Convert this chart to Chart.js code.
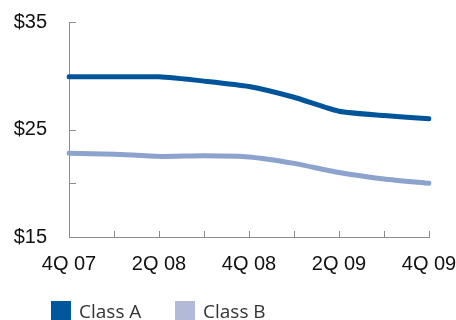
<!DOCTYPE html>
<html>
<head>
<meta charset="utf-8">
<script src="https://cdn.jsdelivr.net/npm/chart.js@4/dist/chart.umd.min.js"></script>
<style>
  html, body { margin: 0; padding: 0; background: #fff; }
  #wrap { position: relative; width: 456px; height: 320px; overflow: hidden; }
  canvas { position: absolute; left: 0; top: 0; }
  .leg { position: absolute; top: 301px; height: 20px; display: flex; align-items: center; font-family: "Open Sans", "Noto Sans", sans-serif; font-size: 19px; color: #333; white-space: nowrap; }
  .sw { width: 20px; height: 20px; margin-right: 8px; }
</style>
</head>
<body>
<div id="wrap">
  <canvas id="c" width="456" height="320"></canvas>
  <div class="leg" style="left:51px"><div class="sw" style="background:#00579b"></div>Class A</div>
  <div class="leg" style="left:175px"><div class="sw" style="background:#b2bad8"></div>Class B</div>
</div>
<script>
const categories = ['4Q 07', '1Q 08', '2Q 08', '3Q 08', '4Q 08', '1Q 09', '2Q 09', '3Q 09', '4Q 09'];
const classA = [29.9, 29.9, 29.9, 29.5, 29.0, 28.0, 26.7, 26.3, 26.0];
const classB = [22.8, 22.7, 22.5, 22.55, 22.45, 21.85, 21.0, 20.4, 20.0];
const yTickValues = [15, 20, 25, 30, 35];
const yLabelValues = [15, 25, 35];

const innerTicks = {
  id: 'innerTicks',
  beforeDatasetsDraw(chart) {
    const ctx = chart.ctx;
    const x = chart.scales.x, y = chart.scales.y;
    ctx.save();
    ctx.strokeStyle = '#8c8c8c';
    ctx.lineWidth = 1;
    ctx.beginPath();
    yTickValues.forEach(v => {
      const py = Math.round(y.getPixelForValue(v)) + 0.5;
      ctx.moveTo(x.left, py);
      ctx.lineTo(x.left + 7, py);
    });
    categories.forEach((c, i) => {
      const px = Math.round(x.getPixelForValue(i)) + 0.5;
      ctx.moveTo(px, y.bottom);
      ctx.lineTo(px, y.bottom - 6);
    });
    ctx.stroke();
    ctx.restore();
  }
};

new Chart(document.getElementById('c'), {
  type: 'line',
  data: {
    labels: categories,
    datasets: [
      { label: 'Class A', data: classA, borderColor: '#00559a', borderWidth: 5, tension: 0.2, pointRadius: 0, borderCapStyle: 'round', borderJoinStyle: 'round' },
      { label: 'Class B', data: classB, borderColor: '#8ba3cd', borderWidth: 5, tension: 0.2, pointRadius: 0, borderCapStyle: 'round', borderJoinStyle: 'round' }
    ]
  },
  options: {
    responsive: false,
    animation: false,
    events: [],
    layout: { padding: { left: 0, right: 27, top: 22, bottom: 43 } },
    plugins: { legend: { display: false }, tooltip: { enabled: false } },
    scales: {
      x: {
        offset: false,
        border: { display: true, color: '#8c8c8c', width: 1 },
        grid: { display: false, drawTicks: false },
        afterFit: s => { s.height = 40; s.paddingLeft = 0; s.paddingRight = 0; },
        ticks: {
          autoSkip: false, maxRotation: 0, padding: 15, color: '#111',
          font: { family: '"Liberation Sans", Arial, sans-serif', size: 20 },
          callback: (v, i) => i % 2 === 0 ? categories[i] : ''
        }
      },
      y: {
        min: 15, max: 35,
        border: { display: true, color: '#8c8c8c', width: 1 },
        grid: { display: false, drawTicks: false },
        afterFit: s => { s.width = 69; s.paddingTop = 0; s.paddingBottom = 0; },
        ticks: {
          stepSize: 5, padding: 22, color: '#111',
          font: { family: '"Liberation Sans", Arial, sans-serif', size: 20 },
          callback: v => yLabelValues.includes(v) ? '$' + v : ''
        }
      }
    }
  },
  plugins: [innerTicks]
});
</script>
</body>
</html>
